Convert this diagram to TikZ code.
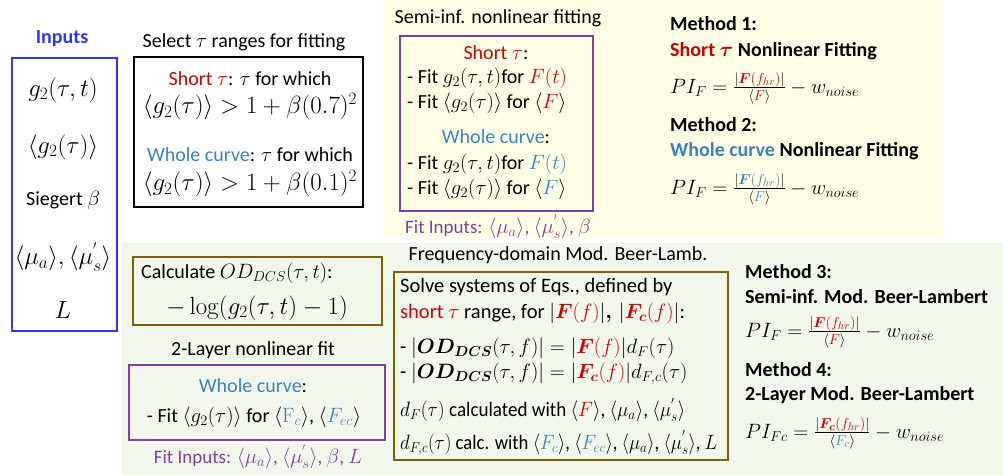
\documentclass[tikz,border=0pt]{standalone}
\usepackage{amsmath,bm}
\usepackage[no-math]{fontspec}
\setmainfont{Carlito}
\DeclareMathSizes{20}{22}{15}{11}
\DeclareMathSizes{20.5}{20.5}{14.5}{10.5}
\DeclareMathSizes{19}{20.5}{14}{10}
\DeclareMathSizes{21.5}{23.5}{16}{12}
\definecolor{inblue}{RGB}{51,51,255}
\definecolor{sred}{RGB}{204,0,0}
\definecolor{mred}{RGB}{192,0,0}
\definecolor{wblue}{RGB}{59,130,189}
\definecolor{fpurple}{RGB}{128,64,160}
\definecolor{olive}{RGB}{127,96,0}
\definecolor{ybg}{RGB}{255,255,229}
\definecolor{gbg}{RGB}{242,247,236}
\tikzset{
  txt/.style={inner sep=0pt, font=\fontsize{20}{24}\selectfont},
  ltxt/.style={txt, anchor=west},
  mtxt/.style={inner sep=0pt, font=\fontsize{21.5}{25}\selectfont},
  ftxt/.style={inner sep=0pt, anchor=west, font=\fontsize{20.5}{24}\selectfont},
  small/.style={inner sep=0pt, font=\fontsize{19}{22}\selectfont, text=fpurple},
  bx/.style={draw, line width=2pt, inner sep=0pt},
}
\begin{document}
\begin{tikzpicture}[x=1pt,y=-1pt]
\useasboundingbox (0,0) rectangle (1003,475);
% backgrounds
\fill[ybg] (383,0) rectangle (943,237);
\fill[gbg] (122,243) rectangle (1003,475);

% Inputs
\node[txt, font=\fontsize{20}{24}\selectfont\bfseries, text=inblue] (inlab) at (62,39) {Inputs};
\node[bx, draw=inblue, minimum width=105pt, minimum height=273pt] (inbox) at (64.5,194.5) {};
\node[mtxt] (in1) at (63,90) {$g_2(\tau,t)$};
\node[mtxt] (in2) at (63,147) {$\langle g_2(\tau)\rangle$};
\node[txt] (in3) at (63,200) {Siegert $\beta$};
\node[mtxt] (in4) at (63,257) {$\langle\mu_a\rangle,\langle\mu_s^{'}\rangle$};
\node[mtxt] (in5) at (63,310) {$L$};

% Select tau
\node[txt] (seltitle) at (244,42) {Select $\tau$ ranges for fitting};
\node[bx, minimum width=229pt, minimum height=150pt] (selbox) at (248.5,132) {};
\node[txt] (s1) at (250,79) {\textcolor{sred}{Short $\tau$}: $\tau$ for which};
\node[mtxt] (s2) at (250,107) {$\langle g_2(\tau)\rangle > 1+\beta(0.7)^2$};
\node[txt] (s3) at (250,155) {\textcolor{wblue}{Whole curve}: $\tau$ for which};
\node[mtxt] (s4) at (250,184) {$\langle g_2(\tau)\rangle > 1+\beta(0.1)^2$};

% Semi-inf
\node[txt] (semititle) at (498,18) {Semi-inf. nonlinear fitting};
\node[bx, draw=fpurple, minimum width=193pt, minimum height=175pt] (semibox) at (496.5,123.5) {};
\node[txt] (m0) at (496,53) {\textcolor{sred}{Short $\tau$}:};
\node[ltxt] (m1) at (407,78) {- Fit $g_2(\tau,t)$for $\color{sred}F(t)$};
\node[ltxt] (m2) at (407,103) {- Fit $\langle g_2(\tau)\rangle$ for $\langle {\color{sred}F}\rangle$};
\node[txt] (m3) at (496,137) {\textcolor{wblue}{Whole curve}:};
\node[ltxt] (m4) at (407,164) {- Fit $g_2(\tau,t)$for $\color{wblue}F(t)$};
\node[ltxt] (m5) at (407,189) {- Fit $\langle g_2(\tau)\rangle$ for $\langle {\color{wblue}F}\rangle$};
\node[small, anchor=west] (semifit) at (405,227) {Fit Inputs: $\langle\mu_a\rangle$, $\langle\mu_s^{'}\rangle$, $\beta$};

% Methods 1,2
\node[ltxt] (M1) at (670,24) {\textbf{Method 1:}};
\node[ltxt] (M1b) at (670,51) {\textbf{\textcolor{mred}{Short $\boldsymbol{\tau}$} Nonlinear Fitting}};
\node[ftxt] (M1e) at (670,88) {$PI_F = \frac{|{\color{mred}\boldsymbol{F}(f_{hr})}|}{\langle {\color{mred}F}\rangle} - w_{noise}$};
\node[ltxt] (M2) at (670,125) {\textbf{Method 2:}};
\node[ltxt] (M2b) at (670,151) {\textbf{\textcolor{wblue}{Whole curve} Nonlinear Fitting}};
\node[ftxt] (M2e) at (670,189) {$PI_F = \frac{|{\color{wblue}\boldsymbol{F}(f_{hr})}|}{\langle {\color{wblue}F}\rangle} - w_{noise}$};

% Calculate OD
\node[bx, draw=olive, minimum width=249pt, minimum height=68pt] (calcbox) at (257.5,291) {};
\node[ltxt] (c1) at (141,273) {Calculate $OD_{DCS}(\tau,t)$:};
\node[mtxt] (c2) at (257,308) {$-\log(g_2(\tau,t)-1)$};

% 2-layer
\node[txt] (twotitle) at (253,350) {2-Layer nonlinear fit};
\node[bx, draw=fpurple, minimum width=256pt, minimum height=75pt] (twobox) at (257,402.5) {};
\node[txt] (t1) at (253,386) {\textcolor{wblue}{Whole curve}:};
\node[txt] (t2) at (254,417) {- Fit $\langle g_2(\tau)\rangle$ for $\langle {\color{wblue}\mathrm{F}_c}\rangle$, $\langle {\color{wblue}F_{ec}}\rangle$};
\node[small] (twofit) at (258,457) {Fit Inputs: $\langle\mu_a\rangle$, $\langle\mu_s^{'}\rangle$, $\beta$, $L$};

% Frequency domain
\node[txt] (fqtitle) at (558,255) {Frequency-domain Mod. Beer-Lamb.};
\node[bx, draw=olive, minimum width=334pt, minimum height=188pt] (fqbox) at (561,366) {};
\node[ftxt] (f1) at (400,287) {Solve systems of Eqs., defined by};
\node[ftxt] (f2) at (400,313) {\textcolor{sred}{short $\tau$} range, for $|{\color{sred}\boldsymbol{F}(f)}|\boldsymbol{,}\,|{\color{sred}\boldsymbol{F_c}(f)}|$:};
\node[ftxt] (f3) at (400,348) {- $|\boldsymbol{OD}_{\boldsymbol{DCS}}(\tau,f)| = |{\color{sred}\boldsymbol{F}(f)}|d_F(\tau)$};
\node[ftxt] (f4) at (400,374) {- $|\boldsymbol{OD}_{\boldsymbol{DCS}}(\tau,f)| = |{\color{sred}\boldsymbol{F_c}(f)}|d_{F,c}(\tau)$};
\node[ftxt] (f5) at (400,410) {\scalebox{0.93}[1]{$d_F(\tau)$ calculated with $\langle {\color{sred}F}\rangle$, $\langle\mu_a\rangle$, $\langle\mu_s^{'}\rangle$}};
\node[ftxt] (f6) at (400,443) {\scalebox{0.91}[1]{$d_{F,c}(\tau)$ calc. with $\langle {\color{wblue}F_c}\rangle$, $\langle {\color{wblue}F_{ec}}\rangle$, $\langle\mu_a\rangle$, $\langle\mu_s^{'}\rangle$, $L$}};

% Methods 3,4
\node[ltxt] (M3) at (745,272) {\textbf{Method 3:}};
\node[ltxt] (M3b) at (745,297) {\textbf{Semi-inf. Mod. Beer-Lambert}};
\node[ftxt] (M3e) at (745,332) {$PI_F = \frac{|{\color{mred}\boldsymbol{F}(f_{hr})}|}{\langle {\color{mred}F}\rangle} - w_{noise}$};
\node[ltxt] (M4) at (745,370) {\textbf{Method 4:}};
\node[ltxt] (M4b) at (745,395) {\textbf{2-Layer Mod. Beer-Lambert}};
\node[ftxt] (M4e) at (745,433) {$PI_{Fc} = \frac{|{\color{mred}\boldsymbol{F_c}(f_{hr})}|}{\langle {\color{wblue}F_c}\rangle} - w_{noise}$};
\end{tikzpicture}
\end{document}
